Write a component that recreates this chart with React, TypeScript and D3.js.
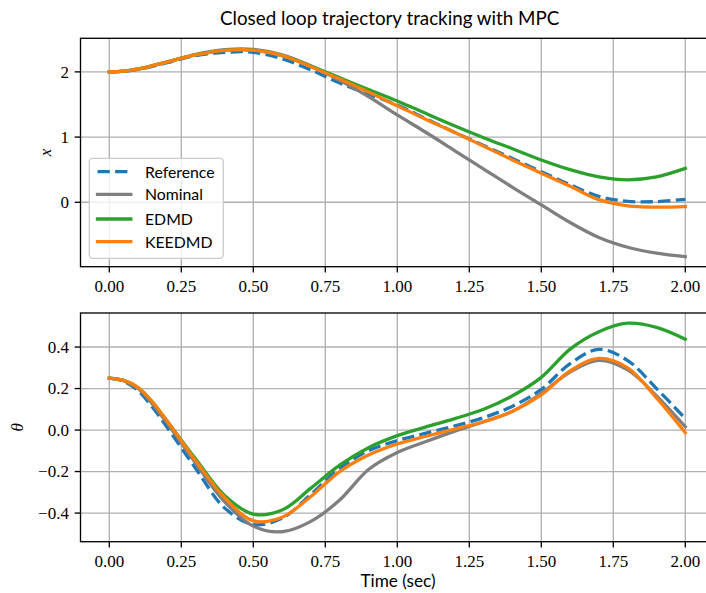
import React from "react";
import * as d3 from "d3";

const T = [0, 0.05, 0.1, 0.15, 0.2, 0.3, 0.4, 0.5, 0.6, 0.7, 0.8, 0.9, 1.0, 1.1, 1.2, 1.3, 1.4, 1.5, 1.6, 1.7, 1.8, 1.9, 2.0];

// x(t)
const xReference = [2.0, 2.01, 2.04, 2.085, 2.14, 2.25, 2.30, 2.30, 2.20, 2.03, 1.83, 1.66, 1.49, 1.28, 1.07, 0.87, 0.67, 0.47, 0.27, 0.09, 0.015, 0.01, 0.046];
const xNominal = [2.0, 2.01, 2.045, 2.095, 2.15, 2.27, 2.34, 2.345, 2.26, 2.09, 1.87, 1.62, 1.34, 1.07, 0.79, 0.51, 0.23, -0.04, -0.31, -0.54, -0.69, -0.78, -0.834];
const xEDMD = [2.0, 2.01, 2.045, 2.095, 2.15, 2.26, 2.33, 2.335, 2.25, 2.09, 1.91, 1.73, 1.554, 1.36, 1.17, 0.99, 0.82, 0.649, 0.50, 0.39, 0.345, 0.39, 0.52];
const xKEEDMD = [2.0, 2.01, 2.045, 2.095, 2.15, 2.26, 2.33, 2.335, 2.25, 2.08, 1.89, 1.69, 1.48, 1.27, 1.07, 0.86, 0.65, 0.445, 0.245, 0.04, -0.055, -0.075, -0.067];

// theta(t)
const thReference = [0.25, 0.235, 0.19, 0.11, 0.015, -0.185, -0.375, -0.455, -0.425, -0.31, -0.185, -0.10, -0.051, -0.015, 0.02, 0.06, 0.115, 0.196, 0.32, 0.389, 0.335, 0.20, 0.056];
const thNominal = [0.25, 0.238, 0.2, 0.125, 0.035, -0.16, -0.345, -0.463, -0.49, -0.44, -0.337, -0.19, -0.108, -0.055, -0.005, 0.04, 0.09, 0.177, 0.28, 0.336, 0.29, 0.165, 0.016];
const thEDMD = [0.25, 0.239, 0.205, 0.135, 0.045, -0.14, -0.315, -0.405, -0.385, -0.28, -0.169, -0.085, -0.027, 0.015, 0.055, 0.1, 0.165, 0.254, 0.39, 0.474, 0.515, 0.495, 0.438];
const thKEEDMD = [0.25, 0.239, 0.205, 0.135, 0.045, -0.148, -0.325, -0.437, -0.42, -0.32, -0.2, -0.12, -0.067, -0.03, 0.005, 0.04, 0.09, 0.169, 0.285, 0.345, 0.30, 0.155, -0.013];

const xTicks = [0, 0.25, 0.5, 0.75, 1.0, 1.25, 1.5, 1.75, 2.0];
const topYTicks = [0, 1, 2];
const botYTicks = [-0.4, -0.2, 0.0, 0.2, 0.4];

const seriesNames = ["Reference", "Nominal", "EDMD", "KEEDMD"];
const colors = ["#1f77b4", "#7f7f7f", "#2ca02c", "#ff7f0e"];

const W = 706;
const H = 593;
const LEFT = 80.5;
const RIGHT = 714.1;
const TOP1 = 38.3, BOT1 = 266.7;
const TOP2 = 313, BOT2 = 541.7;
const LW = 3.3;
const SERIF = "'Liberation Serif', 'DejaVu Serif', serif";
const SANS = "Lato, 'DejaVu Sans', sans-serif";
const GRID = "#b0b0b0";

const fmtTick = (v: number, dec: number) => {
  const s = Math.abs(v).toFixed(dec);
  return v < -1e-9 ? "\u2212" + s : s;
};

function Panel({ top, bottom, yDomain, yTicks, yDec, data, ylabel, ylabelX }: any) {
  const x = d3.scaleLinear().domain([-0.1, 2.1]).range([LEFT, RIGHT]);
  const y = d3.scaleLinear().domain(yDomain).range([bottom, top]);
  const line = d3
    .line<number>()
    .x((_, i) => x(T[i]))
    .y((d) => y(d))
    .curve(d3.curveCatmullRom.alpha(0.5));
  const tickLen = 5.8;
  return (
    <g>
      {xTicks.map((t) => (
        <line key={"gx" + t} x1={x(t)} x2={x(t)} y1={top} y2={bottom} stroke={GRID} strokeWidth={1.33} />
      ))}
      {yTicks.map((t: number) => (
        <line key={"gy" + t} x1={LEFT} x2={RIGHT} y1={y(t)} y2={y(t)} stroke={GRID} strokeWidth={1.33} />
      ))}
      {data.map((d: number[], i: number) => (
        <path
          key={i}
          d={line(d) || ""}
          fill="none"
          stroke={colors[i]}
          strokeWidth={LW}
          strokeLinejoin="round"
          strokeLinecap={i === 0 ? "butt" : "square"}
          strokeDasharray={i === 0 ? "12.3 5.3" : undefined}
        />
      ))}
      <rect x={LEFT} y={top} width={RIGHT - LEFT} height={bottom - top} fill="none" stroke="#000" strokeWidth={1.33} />
      {xTicks.map((t) => (
        <g key={"tx" + t}>
          <line x1={x(t)} x2={x(t)} y1={bottom} y2={bottom + tickLen} stroke="#000" strokeWidth={1.33} />
          <text x={x(t)} y={bottom + 25} textAnchor="middle" fontFamily={SERIF} fontSize={17} fill="#000">
            {t.toFixed(2)}
          </text>
        </g>
      ))}
      {yTicks.map((t: number) => (
        <g key={"ty" + t}>
          <line x1={LEFT - tickLen} x2={LEFT} y1={y(t)} y2={y(t)} stroke="#000" strokeWidth={1.33} />
          <text x={LEFT - 11.6} y={y(t) + 5.8} textAnchor="end" fontFamily={SERIF} fontSize={17} fill="#000">
            {fmtTick(t, yDec)}
          </text>
        </g>
      ))}
      <text
        transform={`translate(${ylabelX},${(top + bottom) / 2}) rotate(-90)`}
        textAnchor="middle"
        fontFamily={SERIF}
        fontStyle="italic"
        fontSize={17}
        fill="#000"
      >
        {ylabel}
      </text>
    </g>
  );
}

export default function App() {
  const legendRows = [171.7, 194.3, 219, 241.7];
  return (
    <div style={{ position: "absolute", left: 0, top: 0 }}>
      <svg width={W} height={H} style={{ display: "block", background: "#fff" }}>
        <text x={389.7} y={25} textAnchor="middle" fontFamily={SANS} fontSize={18.8} fill="#000">
          Closed loop trajectory tracking with MPC
        </text>
        <Panel
          top={TOP1}
          bottom={BOT1}
          yDomain={[-0.988, 2.515]}
          yTicks={topYTicks}
          yDec={0}
          data={[xReference, xNominal, xEDMD, xKEEDMD]}
          ylabel="x"
          ylabelX={51}
        />
        <Panel
          top={TOP2}
          bottom={BOT2}
          yDomain={[-0.538, 0.564]}
          yTicks={botYTicks}
          yDec={1}
          data={[thReference, thNominal, thEDMD, thKEEDMD]}
          ylabel="θ"
          ylabelX={23}
        />
        <text x={398} y={587} textAnchor="middle" fontFamily={SANS} fontSize={17.2} fill="#000">
          Time (sec)
        </text>
        <g>
          <rect x={89.3} y={158.3} width={134} height={100} rx={3.5} fill="#fff" fillOpacity={0.8} stroke="#cccccc" strokeWidth={1.33} />
          {seriesNames.map((n, i) => (
            <g key={n}>
              <line
                x1={97.5}
                x2={130.8}
                y1={legendRows[i]}
                y2={legendRows[i]}
                stroke={colors[i]}
                strokeWidth={LW}
                strokeLinecap={i === 0 ? "butt" : "square"}
                strokeDasharray={i === 0 ? "12.3 5.3" : undefined}
              />
              <text x={145} y={legendRows[i] + 6} fontFamily={SANS} fontSize={15.8} fill="#000">
                {n}
              </text>
            </g>
          ))}
        </g>
      </svg>
    </div>
  );
}
